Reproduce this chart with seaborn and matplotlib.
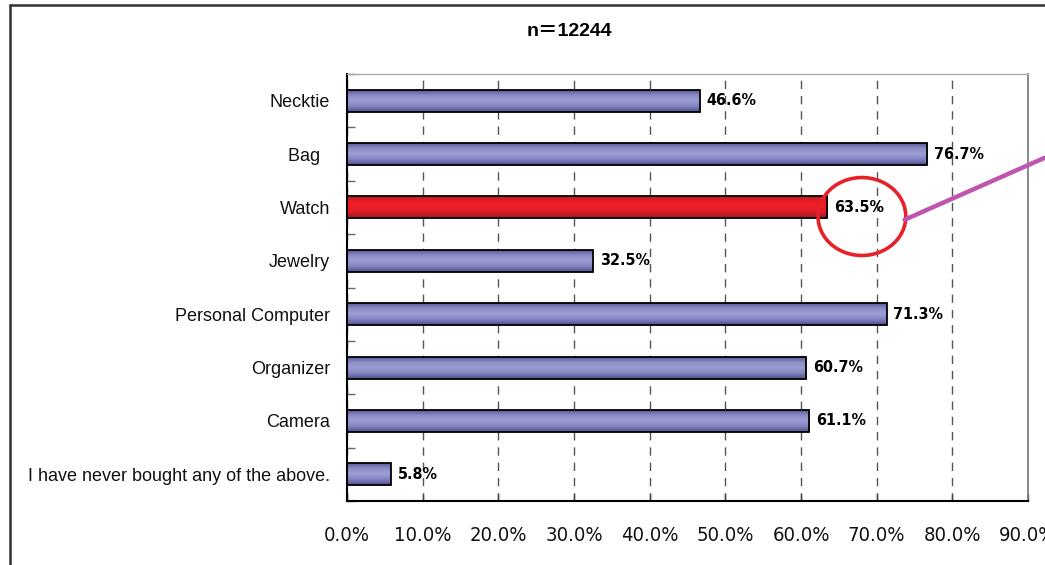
import numpy as np
import matplotlib
matplotlib.use("Agg")
import matplotlib.pyplot as plt
import seaborn as sns
from matplotlib import font_manager
from matplotlib.colors import LinearSegmentedColormap
from matplotlib.patches import Ellipse
from matplotlib.lines import Line2D

categories = ["Necktie", "Bag  ", "Watch", "Jewelry", "Personal Computer",
              "Organizer", "Camera", "I have never bought any of the above."]
values = [46.6, 76.7, 63.5, 32.5, 71.3, 60.7, 61.1, 5.8]
highlight = "Watch"
xticks = np.arange(0, 91, 10)
title = "n＝12244"

sns.set_theme(style="white")
plt.rcParams["font.family"] = ["Liberation Sans", "Noto Sans CJK JP", "DejaVu Sans"]

# look for a condensed face for the numbers, else fall back to Liberation Sans
fonts = font_manager.fontManager.ttflist
cond = [f for f in fonts if f.name == "DejaVu Sans" and f.stretch == "condensed"]
if cond:
    num_font = dict(family="DejaVu Sans", stretch="condensed")
    tick_size, val_size = 14.5, 11.5
else:
    num_font = dict(family="Liberation Sans")
    tick_size, val_size = 13.5, 12

fig = plt.figure(figsize=(10.45, 5.65), dpi=100)
ax = fig.add_axes([347 / 1045, 1 - 501 / 565, (1028 - 347) / 1045, (501 - 74) / 565])

palette = {c: ("#e31e26" if c == highlight else "#7d7dbb") for c in categories}
sns.barplot(x=values, y=categories, hue=categories, palette=palette, legend=False,
            orient="h", width=0.41, edgecolor="black", linewidth=1.3, ax=ax, zorder=3)

# gradient fill inside each bar
blue_cm = LinearSegmentedColormap.from_list("b", ["#58589a", "#8f8fc8", "#9d9dd3", "#8282bf", "#4f4f8c"])
red_cm = LinearSegmentedColormap.from_list("r", ["#b81e28", "#ec1c26", "#ee1f28", "#d81d26", "#9c1a22"])
grad = np.linspace(0, 1, 64).reshape(-1, 1)
for cat, p in zip(categories, ax.patches):
    x0, y0, w, h = p.get_x(), p.get_y(), p.get_width(), p.get_height()
    cm = red_cm if cat == highlight else blue_cm
    ax.imshow(grad, cmap=cm, aspect="auto", extent=[x0, x0 + w, y0 + h, y0],
              zorder=2.5, interpolation="bicubic")
    p.set_facecolor("none")

ax.set_xlim(0, 90)
ax.set_ylim(len(categories) - 0.5, -0.5)

# value labels
for i, v in enumerate(values):
    ax.annotate(f"{v:.1f}%", (v, i), xytext=(5, 0), textcoords="offset points",
                va="center", ha="left", fontsize=val_size, fontweight="bold",
                color="black", zorder=5, **num_font)

# axes styling
ax.set_xticks(xticks)
ax.set_xticklabels([f"{t:.1f}%" for t in xticks], fontsize=tick_size, **num_font)
ax.set_yticks(range(len(categories)))
ax.set_yticklabels(categories, fontsize=13)
ax.set_yticks(np.arange(-0.5, len(categories), 1), minor=True)
ax.tick_params(axis="y", which="major", length=0, pad=12, colors="#111111")
ax.tick_params(axis="y", which="minor", left=True, length=6, width=1, direction="in", color="#666666")
ax.tick_params(axis="x", which="major", bottom=True, length=5, width=1, direction="in",
               color="#444444", pad=18, labelcolor="#111111")
ax.xaxis.grid(True, color="#555555", linestyle=(0, (6, 5)), linewidth=1)
ax.yaxis.grid(False)
ax.set_axisbelow(True)
for s in ["left", "bottom"]:
    ax.spines[s].set_color("black")
    ax.spines[s].set_linewidth(1.5)
ax.spines["top"].set_color("#aaaaaa")
ax.spines["top"].set_linewidth(1)
ax.spines["right"].set_color("#777777")
ax.spines["right"].set_linewidth(1.2)
ax.set_xlabel("")
ax.set_ylabel("")

fig.text(569 / 1045, 1 - 31 / 565, title, ha="center", va="center",
         fontsize=14, fontweight="bold", color="black")

# callout around the highlighted value
wi = categories.index(highlight)
wv = values[wi]
ax.add_patch(Ellipse((wv + 4.55, wi + 0.17), 11.6, 1.46, fill=False, edgecolor="#e8202a",
                     linewidth=2.6, clip_on=False, zorder=6))
ax.add_line(Line2D([wv + 10.2, wv + 28.7], [wi + 0.23, wi - 0.93], color="#c055b0",
                   linewidth=3.2, clip_on=False, zorder=6))

# outer frame (cropped)
fig.add_artist(Line2D([10 / 1045, 10 / 1045], [0, 1 - 5 / 565], color="#333333", linewidth=1.8))
fig.add_artist(Line2D([10 / 1045, 1], [1 - 5 / 565, 1 - 5 / 565], color="#333333", linewidth=1.8))

fig.savefig("out.png", dpi=100)
